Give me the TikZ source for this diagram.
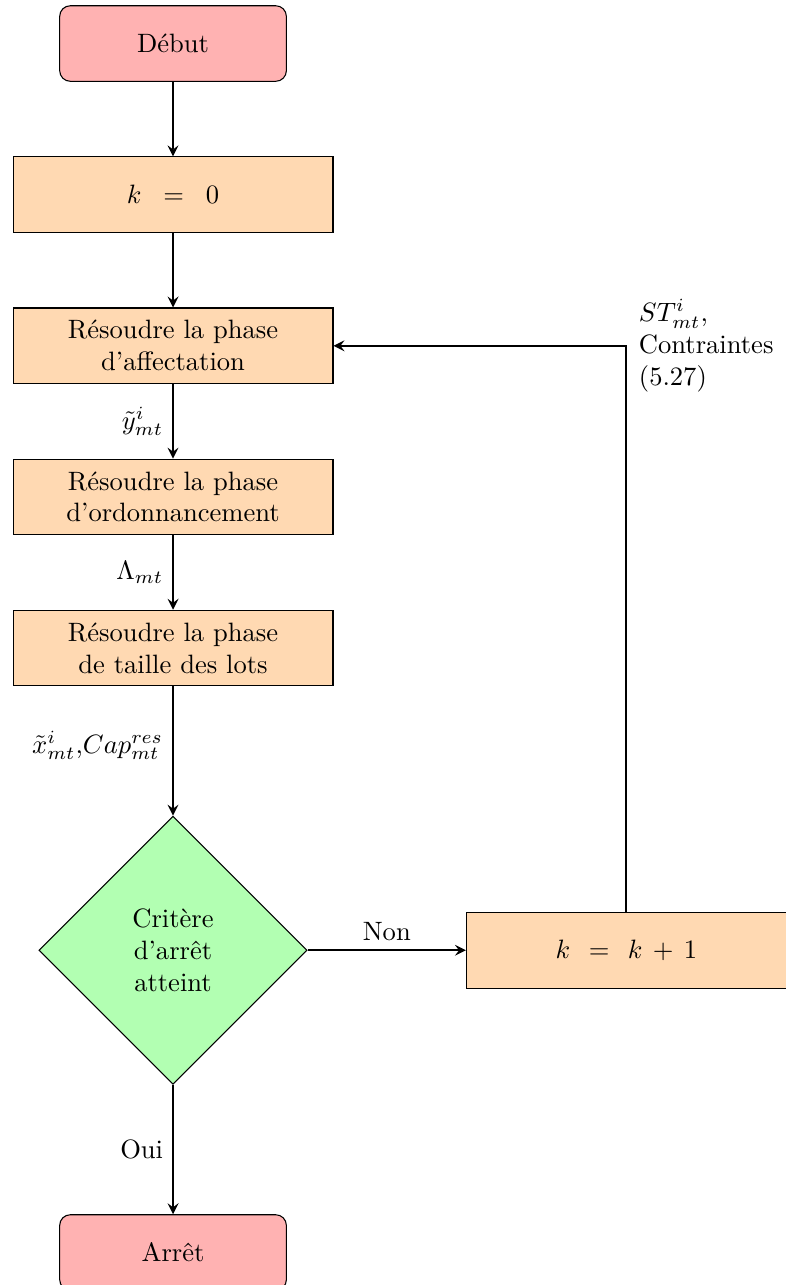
\documentclass[tikz,border=0pt]{standalone}
\usetikzlibrary{shapes.geometric,arrows}
\begin{document}
\begin{tikzpicture}[
  >=stealth,
  startstop/.style={rectangle, rounded corners=4pt, draw=black, fill=red!30, minimum width=3cm, minimum height=1cm, align=center},
  process/.style={rectangle, draw=black, fill=orange!30, text width=4cm, minimum height=1cm, align=center},
  decision/.style={diamond, draw=black, fill=green!30, aspect=1, minimum size=3.55cm, text width=1.8cm, align=center, inner sep=0pt},
  flow/.style={->, thick}
]
\useasboundingbox (-2.29,0.576) rectangle (8.11,-16.43);
\node[startstop] (start) at (0,0) {Début};
\node[process] (k0) at (0,-2) {$k = 0$};
\node[process] (aff) at (0,-4) {Résoudre la phase\\d'affectation};
\node[process] (ord) at (0,-6) {Résoudre la phase\\d'ordonnancement};
\node[process] (lot) at (0,-8) {Résoudre la phase\\de taille des lots};
\node[decision] (dec) at (0,-12) {Critère\\d'arrêt\\atteint};
\node[process] (kp1) at (6,-12) {$k = k+1$};
\node[startstop] (stop) at (0,-16) {Arrêt};

\draw[flow] (start) -- (k0);
\draw[flow] (k0) -- (aff);
\draw[flow] (aff) -- node[midway,left] {$\tilde{y}^{i}_{mt}$} (ord);
\draw[flow] (ord) -- node[midway,left] {$\Lambda_{mt}$} (lot);
\draw[flow] (lot) -- node[midway,left,yshift=2pt] {$\tilde{x}^{i}_{mt}$,$Cap^{res}_{mt}$} (dec);
\draw[flow] (dec) -- node[midway,above] {Non} (kp1);
\draw[flow] (dec) -- node[midway,left] {Oui} (stop);
\draw[flow] (kp1.north) |- node[pos=0.5,right,align=left,xshift=1pt] {$ST^{i}_{mt}$,\\Contraintes\\(5.27)} (aff.east);
\end{tikzpicture}
\end{document}
